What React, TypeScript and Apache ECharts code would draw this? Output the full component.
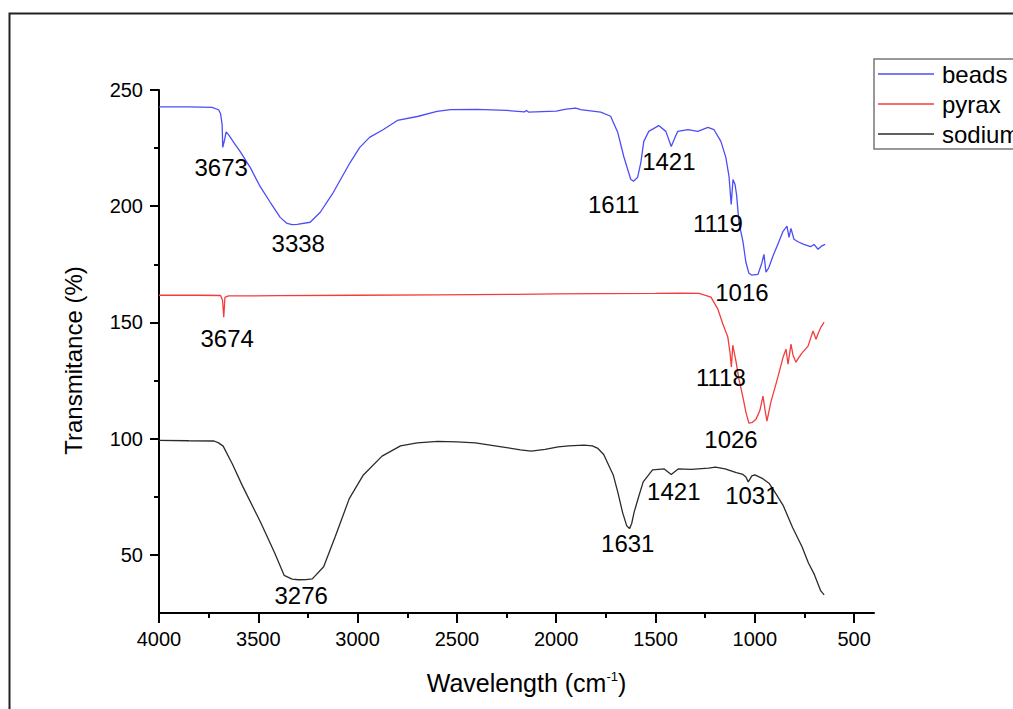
import React, { useEffect, useRef } from "react";
import * as echarts from "echarts";

// FTIR spectra: [wavenumber (cm-1), transmittance (%)]
const beadsSpectrum: number[][] = [
  [4000, 242.7], [3850, 242.7], [3733, 242.5], [3700, 241.5], [3690, 239.8], [3682, 235],
  [3679, 225.3], [3670, 228.5], [3662, 232], [3650, 230.8], [3617, 226.6], [3592, 223.6],
  [3541, 216.7], [3491, 208.5], [3440, 201.7], [3390, 195.2], [3355, 192.6], [3330, 192.1],
  [3304, 192.2], [3239, 193.1], [3188, 197.4], [3122, 206], [3037, 218.9], [2990, 225.2],
  [2940, 229.6], [2870, 233], [2800, 236.9], [2699, 238.6], [2600, 240.8], [2532, 241.6],
  [2400, 241.7], [2250, 241.2], [2160, 240.6], [2150, 241.2], [2140, 240.5], [2000, 240.9],
  [1950, 241.8], [1902, 242.2], [1877, 241.6], [1776, 240.5], [1726, 238.7], [1690, 231.7],
  [1660, 221.4], [1625, 211.6], [1611, 210.7], [1590, 212.5], [1574, 218.8], [1559, 227.9],
  [1534, 232.2], [1484, 234.7], [1448, 232.2], [1421, 225.7], [1400, 230], [1388, 232.2],
  [1337, 233], [1287, 232.2], [1236, 233.9], [1206, 233], [1171, 227.9], [1146, 221],
  [1130, 212.8], [1119, 200.8], [1110, 211.5], [1100, 209.5], [1092, 205], [1080, 193.1],
  [1060, 184.9], [1045, 175.9], [1030, 171.2], [1016, 170.4], [984, 170.7], [965, 175.5],
  [954, 179.3], [944, 171.6], [930, 173.5], [909, 178.5], [880, 184.5], [858, 189.2],
  [838, 191.4], [828, 186.6], [818, 190.5], [803, 185.8], [780, 184.6], [753, 183.6],
  [720, 182.6], [707, 183.2], [702, 183.6], [682, 181.5], [665, 182.8], [646, 183.6],
];

const pyraxSpectrum: number[][] = [
  [4000, 161.7], [3800, 161.7], [3690, 161.6], [3680, 159.5], [3674, 152.3], [3668, 160.8],
  [3650, 161.4], [3400, 161.5], [3000, 161.7], [2600, 161.9], [2200, 162.1], [2000, 162.3],
  [1800, 162.4], [1500, 162.5], [1373, 162.6], [1280, 162.5], [1221, 160.9], [1186, 155.7],
  [1161, 149.3], [1136, 143.7], [1125, 137], [1118, 130.8], [1111, 140.2], [1095, 133.4],
  [1080, 125.6], [1060, 117.9], [1045, 111.4], [1030, 106.7], [1015, 106.9], [994, 108.4],
  [975, 112], [959, 118.3], [948, 112], [939, 107.5], [919, 115.8], [900, 121.5],
  [883, 126.8], [858, 135], [843, 138.5], [833, 132], [818, 140.7], [808, 136], [793, 132.9],
  [767, 136.4], [732, 139.8], [707, 146.3], [692, 142.8], [680, 145.5], [667, 148], [651, 150.1],
];

const sodiumSpectrum: number[][] = [
  [4000, 99.3], [3850, 99.1], [3723, 99], [3700, 98.2], [3677, 96.8], [3630, 89], [3581, 79.9],
  [3488, 63.9], [3418, 50.9], [3370, 41.2], [3330, 39.6], [3299, 39.3], [3260, 39.4],
  [3228, 39.7], [3171, 44.9], [3112, 58], [3042, 74.2], [2971, 84.4], [2877, 92.5],
  [2784, 96.9], [2700, 98.2], [2596, 98.8], [2500, 98.6], [2407, 98.2], [2267, 96.4],
  [2180, 95.2], [2126, 94.6], [2056, 95.4], [1990, 96.5], [1937, 96.9], [1860, 97.2],
  [1818, 96.9], [1790, 95.8], [1761, 93.2], [1713, 84.4], [1690, 77], [1666, 68.3],
  [1645, 62.5], [1631, 61.3], [1620, 63.5], [1608, 68.3], [1585, 75], [1562, 81.4],
  [1515, 86.6], [1456, 87], [1421, 84.6], [1386, 87], [1320, 86.8], [1233, 87.3], [1198, 87.8],
  [1150, 87], [1093, 85.4], [1060, 84.6], [1045, 83.5], [1033, 81.4], [1015, 84],
  [1000, 84.4], [960, 82.8], [927, 80.7], [895, 76.5], [857, 71.2], [810, 61.8], [763, 53.6],
  [730, 46.5], [700, 41.5], [668, 34.5], [651, 32.8],
];

// Peak annotations: [label anchor wavenumber, label anchor transmittance, text]
const peakLabels: (number | string)[][] = [
  [3687, 216.7, "3673"], [3299, 184.1, "3338"], [1710, 200.8, "1611"], [1433, 219.3, "1421"],
  [1186, 192.6, "1119"], [1065, 163.0, "1016"], [3657, 143.2, "3674"], [1171, 126.1, "1118"],
  [1120, 99.5, "1026"], [1408, 77.1, "1421"], [1015, 75.4, "1031"], [1640, 54.8, "1631"],
  [3284, 32.4, "3276"],
];

const seriesNames = ["beads", "pyrax", "sodium"];
const seriesColors = ["#4d4df7", "#f43c3c", "#2b2b2b"];

const xMajorTicks = [500, 1000, 1500, 2000, 2500, 3000, 3500, 4000];
const xMinorTicks = [750, 1250, 1750, 2250, 2750, 3250, 3750];
const yMajorTicks = [50, 100, 150, 200, 250];
const yMinorTicks = [75, 125, 175, 225];

const FONT = "'Liberation Sans', Arial, sans-serif";

export default function App() {
  const ref = useRef<HTMLDivElement>(null);

  useEffect(() => {
    if (!ref.current) return;
    const chart = echarts.init(ref.current, undefined, { renderer: "svg" });
    const axisLine = { show: true, onZero: false, lineStyle: { color: "#000", width: 2 } };
    const plain = (v: number) => String(v);

    chart.setOption({
      animation: false,
      backgroundColor: "#fff",
      textStyle: { fontFamily: FONT },
      grid: { left: 159, right: 139, top: 90, bottom: 96, containLabel: false },
      legend: {
        data: seriesNames,
        orient: "vertical",
        left: 874,
        top: 59,
        padding: [3, 40, 3, 4],
        itemGap: 6,
        itemWidth: 56,
        itemHeight: 1.5,
        icon: "rect",
        borderColor: "#777",
        borderWidth: 1.5,
        backgroundColor: "#fff",
        textStyle: { fontSize: 24, color: "#000", fontFamily: FONT, padding: [0, 0, 0, 3] },
      },
      xAxis: [
        {
          type: "value",
          inverse: true,
          min: 400,
          max: 4000,
          name: "Wavelength (cm{sup|-1})",
          nameLocation: "middle",
          nameGap: 57,
          nameTextStyle: {
            fontSize: 25,
            color: "#000",
            fontFamily: FONT,
            padding: [0, 0, 0, 20],
            rich: { sup: { fontSize: 13, verticalAlign: "top", padding: [0, 0, 12, 0], color: "#000" } },
          },
          axisLine,
          axisTick: { show: true, inside: false, length: 10, customValues: xMajorTicks, lineStyle: { color: "#000", width: 2 } },
          axisLabel: { show: true, customValues: xMajorTicks, formatter: plain, margin: 16, fontSize: 20, color: "#000", fontFamily: FONT },
          splitLine: { show: false },
        },
        {
          type: "value",
          inverse: true,
          min: 400,
          max: 4000,
          position: "bottom",
          axisLine: { show: false },
          axisTick: { show: true, length: 5, customValues: xMinorTicks, lineStyle: { color: "#000", width: 2 } },
          axisLabel: { show: false },
          splitLine: { show: false },
        },
      ],
      yAxis: [
        {
          type: "value",
          min: 25,
          max: 250,
          position: "left",
          name: "Transmitance (%)",
          nameLocation: "middle",
          nameGap: 74,
          nameTextStyle: { fontSize: 24, color: "#000", fontFamily: FONT, padding: [0, 0, 0, -18] },
          axisLine,
          axisTick: { show: true, inside: false, length: 9, customValues: yMajorTicks, lineStyle: { color: "#000", width: 2 } },
          axisLabel: { show: true, customValues: yMajorTicks, formatter: plain, margin: 16, fontSize: 20, color: "#000", fontFamily: FONT },
          splitLine: { show: false },
        },
        {
          type: "value",
          min: 25,
          max: 250,
          position: "left",
          axisLine: { show: false },
          axisTick: { show: true, length: 5, customValues: yMinorTicks, lineStyle: { color: "#000", width: 2 } },
          axisLabel: { show: false },
          splitLine: { show: false },
        },
      ],
      series: [
        ...[beadsSpectrum, pyraxSpectrum, sodiumSpectrum].map((d, i) => ({
          name: seriesNames[i],
          type: "line",
          data: d,
          showSymbol: false,
          symbol: "none",
          color: seriesColors[i],
          lineStyle: { color: seriesColors[i], width: 1.3 },
          emphasis: { disabled: true },
          z: 3,
        })),
        {
          name: "peaks",
          type: "scatter",
          data: peakLabels,
          symbolSize: 0,
          itemStyle: { color: "#000" },
          silent: true,
          label: {
            show: true,
            position: "inside",
            formatter: (p: any) => String(p.value[2]),
            fontSize: 24,
            color: "#000",
            opacity: 1,
            textBorderWidth: 0,
            fontFamily: FONT,
          },
          z: 4,
        },
      ],
      graphic: [
        {
          type: "rect",
          shape: { x: 9.5, y: 13.5, width: 1030, height: 720 },
          style: { fill: "none", stroke: "#222", lineWidth: 2 },
          silent: true,
          z: 10,
        },
      ],
    });
    return () => chart.dispose();
  }, []);

  return <div ref={ref} style={{ position: "fixed", left: 0, top: 0, width: 1013, height: 709 }} />;
}
